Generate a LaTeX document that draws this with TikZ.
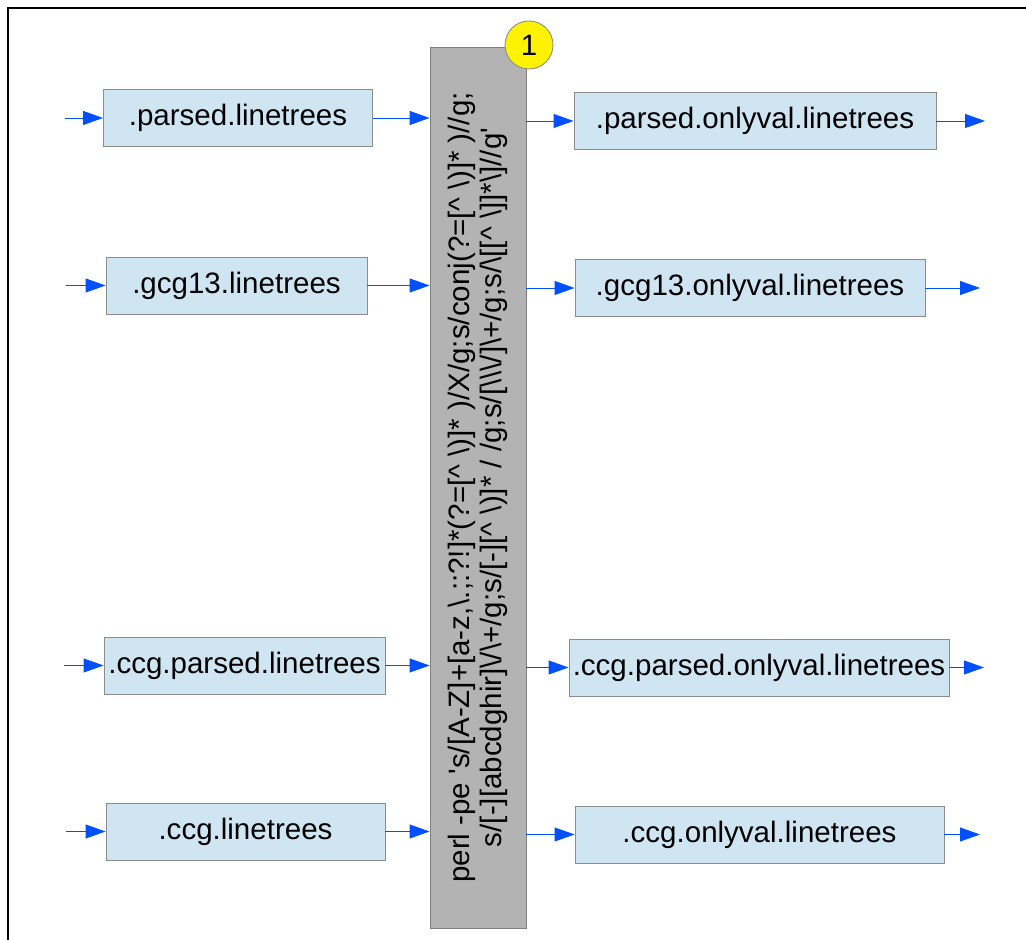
\documentclass[tikz,border=0pt]{standalone}
\usepackage{fontspec}
\setmainfont{Liberation Sans}
\usepackage{xcolor}
\usetikzlibrary{arrows.meta,positioning}

\definecolor{arrowblue}{RGB}{0,80,255}
\definecolor{filefill}{RGB}{207,229,242}
\definecolor{stepfill}{RGB}{179,179,179}

\begin{document}
\begin{tikzpicture}[
    arr/.style={-{Triangle[length=0.4cm,width=0.28cm]},line width=0.5pt,arrowblue},
    file/.style={draw=black!45,fill=filefill,line width=0.5pt,minimum height=1.14cm,
      inner sep=0pt,font=\fontsize{16.8}{20}\selectfont},
    cmdbox/.style={draw=black!50,fill=stepfill,line width=0.5pt,minimum width=1.92cm,
      minimum height=17.62cm,inner sep=0pt},
    badge/.style={circle,draw=black!45,fill=yellow,line width=0.5pt,minimum size=0.96cm,
      inner sep=0pt,font=\fontsize{16.8}{20}\selectfont}]
  \useasboundingbox (0,0) rectangle (20.52,18.8);
  % outer frame (only left and top edges show)
  \draw[line width=0.8pt] (0.16,0) -- (0.16,18.64) -- (20.52,18.64);

  %% the perl step
  \node[cmdbox] (perl) at (9.56,9.05) {};
  \node[rotate=90,align=center,font=\fontsize{16.8}{18.6}\selectfont] (perlcmd) at (perl.center)
    {perl -pe \textquotesingle s/[A-Z]+[a-z,\textbackslash.;:?!]*(?=[\textasciicircum{} \textbackslash)]* )/X/g;s/conj(?=[\textasciicircum{} \textbackslash)]* )//g;\\
     s/[-][abcdghir]\textbackslash/\textbackslash+/g;s/[-][\textasciicircum{} \textbackslash)]* / /g;s/[\textbackslash\textbackslash\textbackslash/]\textbackslash+/g;s/\textbackslash[[\textasciicircum{} \textbackslash]]*\textbackslash]//g\textquotesingle};
  \node[badge] (one) at (10.58,17.9) {1};

  %% input files
  \node[file,minimum width=5.38cm] (parsed)    at (4.76,16.44) {.parsed.linetrees};
  \node[file,minimum width=5.22cm] (gcg)       at (4.73,13.09) {.gcg13.linetrees};
  \node[file,minimum width=5.62cm] (ccgparsed) at (4.89,5.49)  {.ccg.parsed.linetrees};
  \node[file,minimum width=5.58cm] (ccg)       at (4.91,2.17)  {.ccg.linetrees};

  %% output files
  \node[file,minimum width=7.24cm] (parsedval)    at (15.10,16.38) {.parsed.onlyval.linetrees};
  \node[file,minimum width=7.00cm] (gcgval)       at (15.00,13.04) {.gcg13.onlyval.linetrees};
  \node[file,minimum width=7.60cm] (ccgparsedval) at (15.18,5.45)  {.ccg.parsed.onlyval.linetrees};
  \node[file,minimum width=7.38cm] (ccgval)       at (15.19,2.11)  {.ccg.onlyval.linetrees};

  % loose arrow ends
  \coordinate (in1) at (1.30,16.44);
  \coordinate (in2) at (1.32,13.09);
  \coordinate (in3) at (1.28,5.49);
  \coordinate (in4) at (1.32,2.17);
  \coordinate (out1) at (19.70,16.38);
  \coordinate (out2) at (19.60,13.04);
  \coordinate (out3) at (19.68,5.45);
  \coordinate (out4) at (19.60,2.11);

  % into the inputs
  \draw[arr] (in1) -- (parsed);
  \draw[arr] (in2) -- (gcg);
  \draw[arr] (in3) -- (ccgparsed);
  \draw[arr] (in4) -- (ccg);
  % inputs -> perl
  \draw[arr] (parsed) -- (parsed -| perl.west);
  \draw[arr] (gcg) -- (gcg -| perl.west);
  \draw[arr] (ccgparsed) -- (ccgparsed -| perl.west);
  \draw[arr] (ccg) -- (ccg -| perl.west);
  % perl -> outputs
  \draw[arr] (perl.east |- parsedval) -- (parsedval);
  \draw[arr] (perl.east |- gcgval) -- (gcgval);
  \draw[arr] (perl.east |- ccgparsedval) -- (ccgparsedval);
  \draw[arr] (perl.east |- ccgval) -- (ccgval);
  % out of the outputs
  \draw[arr] (parsedval) -- (out1);
  \draw[arr] (gcgval) -- (out2);
  \draw[arr] (ccgparsedval) -- (out3);
  \draw[arr] (ccgval) -- (out4);
\end{tikzpicture}
\end{document}
